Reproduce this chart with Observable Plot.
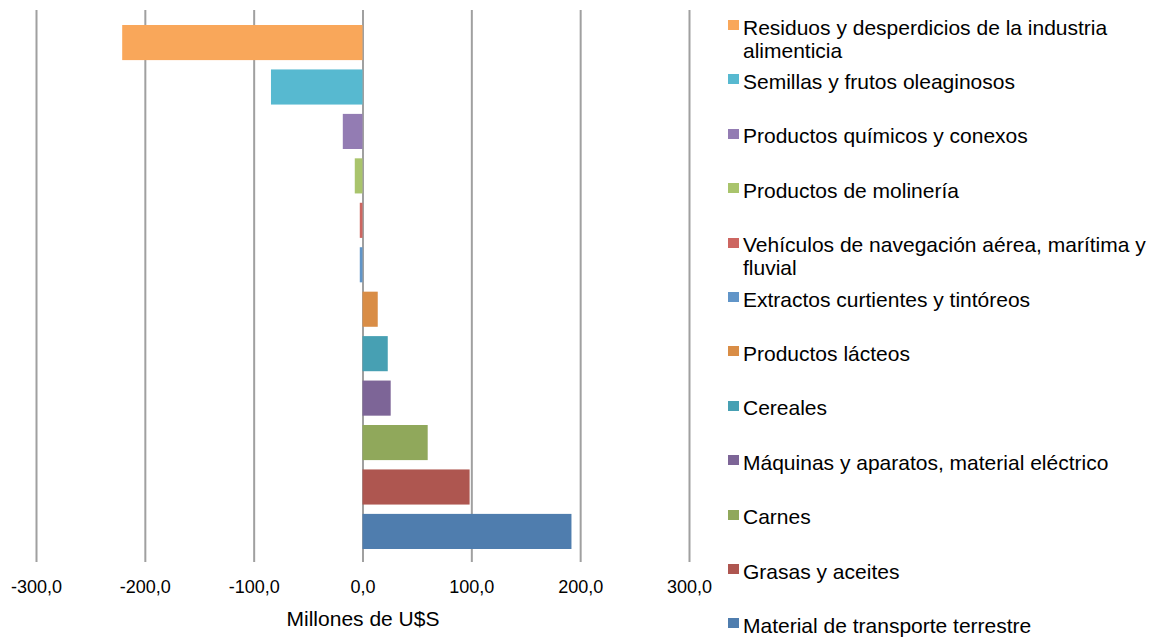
<!DOCTYPE html>
<html>
<head>
<meta charset="utf-8">
<script src="https://cdn.jsdelivr.net/npm/d3@7"></script>
<script src="https://cdn.jsdelivr.net/npm/@observablehq/plot@0.6"></script>
<style>
  html, body { margin: 0; padding: 0; background: #fff; overflow: hidden; }
  body { font-family: "Liberation Sans", Arial, sans-serif; color: #000; }
  #wrap { position: relative; width: 1159px; height: 641px; }
  #chart svg { display: block; }
  #legend { position: absolute; left: 728px; top: 0; }
  .item { position: absolute; left: 0; display: flex; align-items: flex-start; }
  .sw { width: 11px; height: 10px; margin-top: 4.5px; margin-right: 4px; flex: none; }
  .lab { width: 416px; font-size: 21px; line-height: 23px; }
</style>
</head>
<body>
<div id="wrap">
  <div id="chart"></div>
  <div id="legend"></div>
</div>
<script>
const categories = [
  "Residuos y desperdicios de la industria alimenticia",
  "Semillas y frutos oleaginosos",
  "Productos químicos y conexos",
  "Productos de molinería",
  "Vehículos de navegación aérea, marítima y fluvial",
  "Extractos curtientes y tintóreos",
  "Productos lácteos",
  "Cereales",
  "Máquinas y aparatos, material eléctrico",
  "Carnes",
  "Grasas y aceites",
  "Material de transporte terrestre"
];
const values = [-220.8, -84.1, -18.1, -7.1, -2.5, -2.5, 14.0, 23.2, 25.9, 59.9, 98.4, 192.0];
const colors = ["#F9A75A", "#57B9D0", "#937CB3", "#A9C46C", "#CD6661", "#6195C8",
                "#D98D46", "#47A0B3", "#7D6597", "#90A85B", "#AE5650", "#4F7DAE"];
const xTicks = [-300, -200, -100, 0, 100, 200, 300];
const axisLabel = "Millones de U$S";

const data = categories.map((c, i) => ({cat: c, value: values[i]}));
const fmt = d => d.toFixed(1).replace(".", ",");

const chart = Plot.plot({
  width: 1159,
  height: 641,
  marginLeft: 36,
  marginRight: 470,
  marginTop: 10,
  marginBottom: 79,
  style: {fontFamily: "'Liberation Sans', Arial, sans-serif", color: "#000", background: "#fff"},
  x: {domain: [-300, 300]},
  y: {domain: categories, range: [25, 549], paddingInner: 0.21, paddingOuter: 0, round: false, axis: null},
  color: {domain: categories, range: colors},
  marks: [
    Plot.ruleX(xTicks, {stroke: "#a0a0a0", strokeWidth: 2}),
    Plot.barX(data, {x: "value", y: "cat", fill: "cat"}),
    Plot.axisX(xTicks, {tickSize: 0, tickPadding: 18, fontSize: 18, tickFormat: fmt, label: null, fill: "#000"}),
    Plot.text([axisLabel], {x: () => 0, frameAnchor: "bottom", dy: 63, fontSize: 21, fill: "#000", text: d => d})
  ]
});
document.getElementById("chart").appendChild(chart);

const legend = document.getElementById("legend");
categories.forEach((c, i) => {
  const it = document.createElement("div");
  it.className = "item";
  it.style.top = (15.5 + i * 54.4) + "px";
  const sw = document.createElement("div");
  sw.className = "sw";
  sw.style.background = colors[i];
  const lab = document.createElement("div");
  lab.className = "lab";
  lab.textContent = c;
  it.appendChild(sw);
  it.appendChild(lab);
  legend.appendChild(it);
});
</script>
</body>
</html>
